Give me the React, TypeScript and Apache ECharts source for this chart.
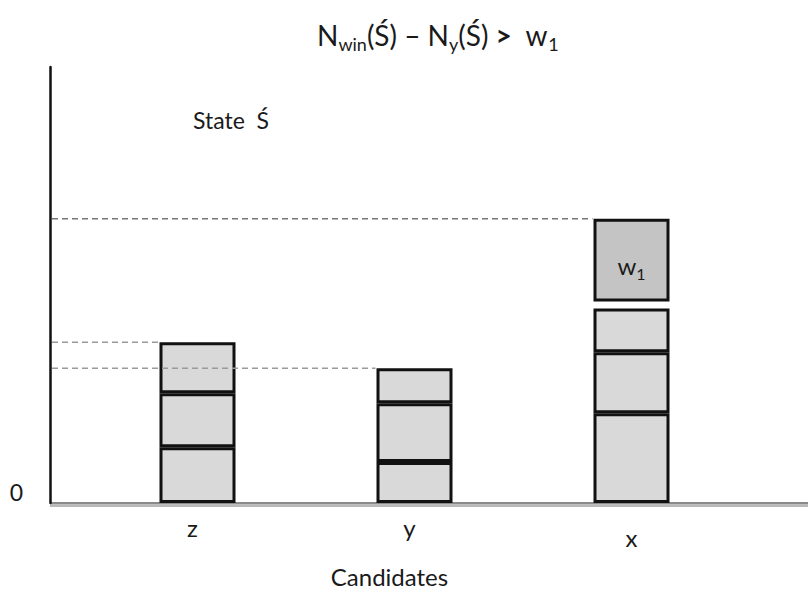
import React, { useEffect, useRef } from 'react';
import * as echarts from 'echarts';

// Candidates on the horizontal axis
const categories = ['z', 'y', 'x'];
// Stacked voter-weight blocks, bottom to top (schematic weight units)
const block1 = [5.6, 4.1, 9.0];
const block2 = [5.4, 5.9, 6.1];
const block3 = [5.1, 3.5, 4.4];
const gapBlock: (number | string)[] = ['-', '-', 0.7];
const w1Block: (number | string)[] = ['-', '-', 8.3];
const yMax = 43.7;
const yTickLabels = ['0'];

const FONT = 'Lato, "Open Sans", sans-serif';
const GRID_LEFT = 89;
const Y_OFFSET = 39;
const BAR_W = 76;

const num = (v: number | string) => (typeof v === 'number' ? v : 0);

export default function App() {
  const ref = useRef<HTMLDivElement>(null);
  useEffect(() => {
    if (!ref.current) return;
    const chart = echarts.init(ref.current, null, { renderer: 'svg' });
    const barSeries = (name: string, data: (number | string)[], color: string, extra: any = {}) => ({
      name,
      type: 'bar',
      stack: 'total',
      barWidth: BAR_W,
      data,
      itemStyle: { color, borderColor: '#111', borderWidth: 3 },
      emphasis: { disabled: true },
      ...extra,
    });
    const txt = { fontFamily: FONT, color: '#1a1a1a', fontWeight: 'normal' };
    const option: any = {
      animation: false,
      backgroundColor: '#fff',
      title: {
        text: '{n|N}{s|win}{n|(Ś) – N}{s|y}{n|(Ś) }{g|>}{n|  w}{s|1}',
        left: 312,
        top: 8,
        textStyle: {
          fontWeight: 'normal',
          rich: {
            n: { ...txt, fontSize: 28, verticalAlign: 'bottom', lineHeight: 40, padding: [0, 0, 4, 0] },
            g: { ...txt, fontSize: 28, fontWeight: 'bold', verticalAlign: 'bottom', lineHeight: 40, padding: [0, 0, 4, 0] },
            s: { ...txt, fontSize: 18, verticalAlign: 'bottom', lineHeight: 40 },
          },
        },
      },
      grid: { left: GRID_LEFT, right: 68, top: 67, bottom: 89 },
      xAxis: {
        type: 'category',
        data: categories,
        axisLine: { show: false },
        axisTick: { show: false },
        axisLabel: {
          margin: 12,
          formatter: (v: string) => (v === 'x' ? `{b|${v}}` : `{a|${v}}`),
          rich: {
            a: { ...txt, fontSize: 24, padding: [0, 10, 0, 0] },
            b: { ...txt, fontSize: 24, padding: [10, 0, 0, 0] },
          },
        },
        name: 'Candidates',
        nameLocation: 'middle',
        nameGap: 61,
        nameTextStyle: { ...txt, fontSize: 24, padding: [0, 50, 0, 0] },
      },
      yAxis: {
        type: 'value',
        min: 0,
        max: yMax,
        interval: yMax,
        offset: Y_OFFSET,
        axisLine: { show: true, lineStyle: { color: '#111', width: 2.5 } },
        axisTick: { show: false },
        splitLine: { show: false },
        axisLabel: {
          ...txt,
          margin: 27,
          fontSize: 23,
          verticalAlign: 'bottom',
          formatter: (v: number) => (v === 0 ? yTickLabels[0] : ''),
        },
      },
      series: [
        barSeries('block1', block1, '#d9d9d9'),
        barSeries('block2', block2, '#d9d9d9'),
        barSeries('block3', block3, '#d9d9d9'),
        {
          name: 'gap',
          type: 'bar',
          stack: 'total',
          barWidth: BAR_W,
          data: gapBlock,
          itemStyle: { color: 'rgba(0,0,0,0)', borderWidth: 0 },
          emphasis: { disabled: true },
        },
        barSeries('w1', w1Block, '#c4c4c4', {
          label: {
            show: true,
            position: 'inside',
            offset: [0, 4],
            formatter: '{w|w}{s|1}',
            rich: {
              w: { ...txt, fontSize: 24, verticalAlign: 'bottom', lineHeight: 34, padding: [0, 0, 4, 0] },
              s: { ...txt, fontSize: 16, verticalAlign: 'bottom', lineHeight: 34 },
            },
          },
        }),
      ],
    };
    chart.setOption(option);

    // Guides derived from the chart's own scales
    const yPx = (v: number) => chart.convertToPixel({ yAxisIndex: 0 }, v) as number;
    const xPx = (c: string) => chart.convertToPixel({ xAxisIndex: 0 }, c) as number;
    const axisX = GRID_LEFT - Y_OFFSET;
    const base = yPx(0);
    const totals = categories.map((_, i) =>
      num(block1[i]) + num(block2[i]) + num(block3[i]) + num(gapBlock[i]) + num(w1Block[i])
    );
    const dashed = categories.map((c, i) => ({
      type: 'line',
      z: 10,
      silent: true,
      shape: { x1: axisX + 2, y1: yPx(totals[i]), x2: xPx(c) - BAR_W / 2 - 1, y2: yPx(totals[i]) },
      style: { stroke: i === 2 ? '#777' : '#9a9a9a', lineWidth: 1.5, lineDash: [6, 4] },
    }));
    chart.setOption({
      graphic: [
        {
          type: 'rect',
          z: 0,
          silent: true,
          shape: { x: axisX, y: base - 1, width: 808 - axisX, height: 2.5 },
          style: { fill: '#8a8a8a' },
        },
        {
          type: 'rect',
          z: 0,
          silent: true,
          shape: { x: axisX, y: base + 1.5, width: 808 - axisX, height: 2.5 },
          style: { fill: '#b8b8b8' },
        },
        ...dashed,
        {
          type: 'text',
          left: 193,
          top: 108,
          style: { text: 'State  Ś', font: `23px ${FONT}`, fill: '#1a1a1a' },
        },
      ],
    });
    return () => chart.dispose();
  }, []);
  return (
    <div
      ref={ref}
      style={{ position: 'fixed', left: 0, top: 0, width: 808, height: 593, background: '#fff' }}
    />
  );
}
